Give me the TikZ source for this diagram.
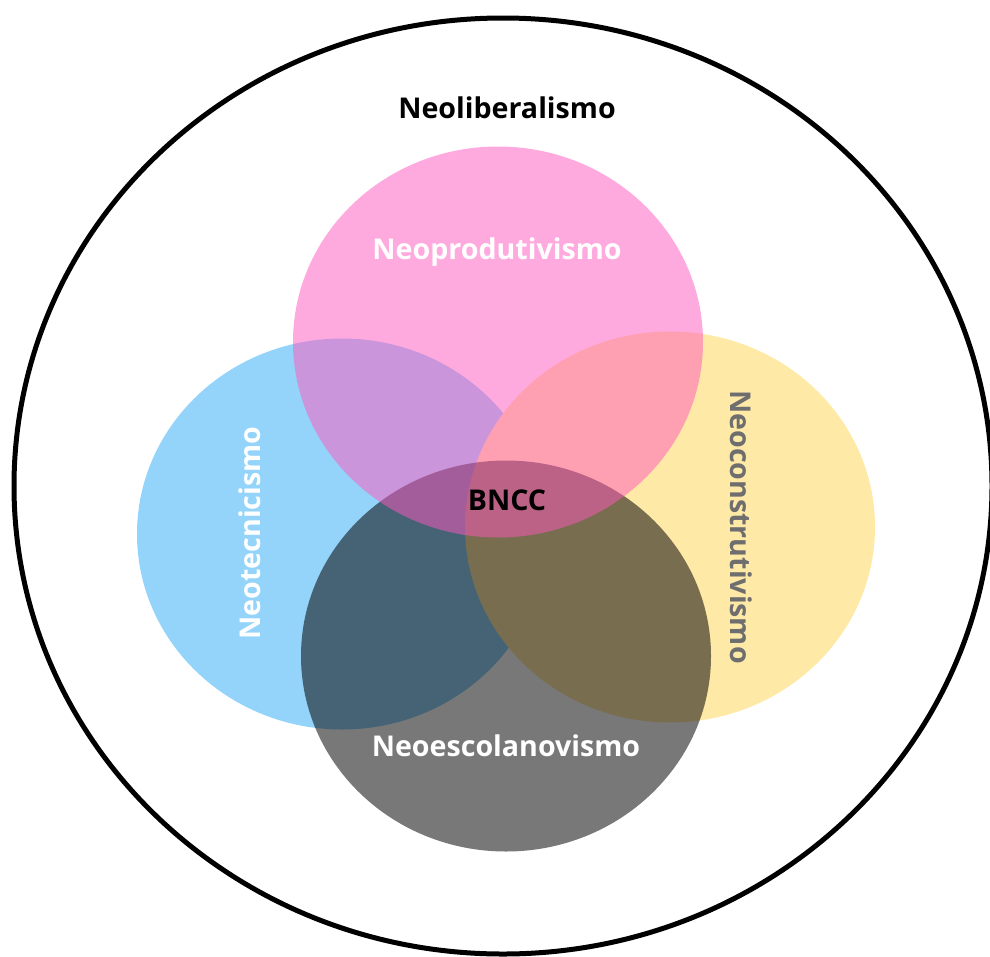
\documentclass[tikz,border=0pt]{standalone}
\usepackage{fontspec}
\setmainfont{Open Sans}
\usetikzlibrary{shapes.geometric}

\definecolor{vennblue}{RGB}{148,212,250}
\definecolor{vennyellow}{RGB}{255,233,166}
\definecolor{vennpink}{RGB}{255,89,191}
\definecolor{labelgray}{RGB}{110,110,110}

\begin{document}
\begin{tikzpicture}[
    x=1pt, y=-1pt,
    set_node/.style={
        ellipse,
        draw=none,
        fill=#1,
        inner sep=0pt,
        minimum width=410pt,
        minimum height=391pt
    },
    set_label/.style={
        font=\fontsize{28.6}{32}\selectfont\bfseries,
        text=#1,
        inner sep=0pt
    }
]
    \useasboundingbox (0,0) rectangle (990,956);

    % Outer set
    \node (outer) [ellipse, draw=black, line width=5pt, minimum width=978pt, minimum height=936pt, inner sep=0pt] at (503,486) {};

    % Venn sets
    \node (tec) [set_node=vennblue] at (342,534) {};
    \node (con) [set_node=vennyellow] at (670,527) {};
    \node (esc) [set_node=black, fill opacity=0.53] at (506,656) {};
    \node (pro) [set_node=vennpink, fill opacity=0.51] at (498,342) {};

    % Labels
    \node (lib) [set_label=black] at (507,108) {Neoliberalismo};
    \node (prolbl) [set_label=white] at (497,252) {Neoprodutivismo};
    \node (teclbl) [set_label=white, rotate=90] at (250,533) {Neotecnicismo};
    \node (conlbl) [set_label=labelgray, rotate=-90] at (741,527) {Neoconstrutivismo};
    \node (esclbl) [set_label=white] at (506,746) {Neoescolanovismo};
    \node (bncc) [set_label=black] at (507,500) {BNCC};

\end{tikzpicture}
\end{document}
